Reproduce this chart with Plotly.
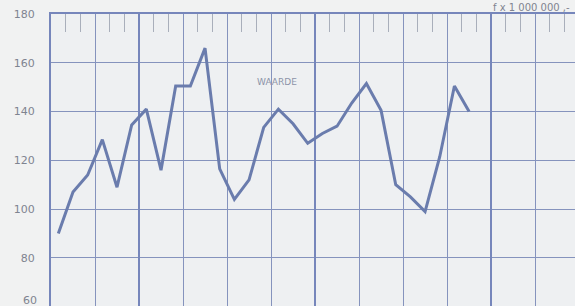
import plotly.graph_objects as go

# months (index, point at month centre)
months = [i + 0.5 for i in range(29)]
waarde = [90, 107, 114, 128.5, 109, 134.5, 141, 116, 150.5, 150.5, 166, 116.5,
          104, 112, 133.5, 141, 135, 127, 131, 134, 143.5, 151.5, 140.5, 110,
          105, 99, 121.5, 150.5, 140]
y_ticks = [80, 100, 120, 140, 160, 180]
year_lines = [6, 18, 30]
series_label = "WAARDE"
unit_label = "f x 1 000 000 ,-"

grid_col = "#8593bd"
line_col = "#6a7cad"
text_col = "#7f8490"
font_fam = "DejaVu Sans, Liberation Sans, Arial"

fig = go.Figure()
fig.add_trace(go.Scatter(x=months, y=waarde, mode="lines",
                         line=dict(color=line_col, width=3), showlegend=False,
                         hoverinfo="skip"))
# invisible trace to drive the thick year gridlines on overlay axis
fig.add_trace(go.Scatter(x=[0], y=[120], xaxis="x2", mode="markers",
                         marker=dict(opacity=0), showlegend=False, hoverinfo="skip"))

XR = [0, 35.72]
fig.update_layout(
    width=575, height=306,
    margin=dict(l=51, r=0, t=14, b=0, autoexpand=False),
    paper_bgcolor="#f1f2f2", plot_bgcolor="#eef0f2",
    xaxis=dict(range=XR, tick0=0, dtick=3, showgrid=True, gridcolor=grid_col,
               gridwidth=1, showticklabels=False, side="top", ticks="",
               zeroline=False, showline=True, linecolor="#7686bb", linewidth=2,
               automargin=False,
               minor=dict(dtick=1, tick0=0, ticks="inside", ticklen=18,
                          tickcolor="#a9afbb", tickwidth=1, showgrid=False)),
    xaxis2=dict(range=XR, overlaying="x", tickvals=year_lines, showgrid=True,
                gridcolor="#7686bb", gridwidth=2, showticklabels=False,
                zeroline=False, ticks="", automargin=False),
    yaxis=dict(range=[60.3, 180], tickvals=y_ticks, showgrid=True,
               gridcolor=grid_col, gridwidth=1, zeroline=False,
               showline=True, linecolor="#7686bb", linewidth=2,
               ticks="", ticklabelstandoff=12, automargin=False,
               tickfont=dict(family=font_fam, size=11, color=text_col)),
    annotations=[
        dict(x=0, xref="paper", y=62.7, yref="y", text="60", showarrow=False,
             xanchor="right", xshift=-12, yanchor="middle",
             font=dict(family=font_fam, size=11, color=text_col)),
        dict(x=15.39, y=152.3, xref="x", yref="y", text=series_label,
             showarrow=False, font=dict(family=font_fam, size=9, color="#8c93a8")),
        dict(x=1, xref="paper", y=1, yref="paper", text=unit_label,
             showarrow=False, xanchor="right", yanchor="bottom", xshift=-3,
             yshift=-1,
             font=dict(family=font_fam, size=10, color=text_col)),
    ],
)
fig.write_html("out.html", config={"displayModeBar": False, "staticPlot": True})

# remove default page margin so the figure sits at the window origin
with open("out.html", encoding="utf-8") as f:
    html = f.read()
html = html.replace("<head>", "<head><style>html,body{margin:0;padding:0;overflow:hidden}</style>", 1)
with open("out.html", "w", encoding="utf-8") as f:
    f.write(html)
